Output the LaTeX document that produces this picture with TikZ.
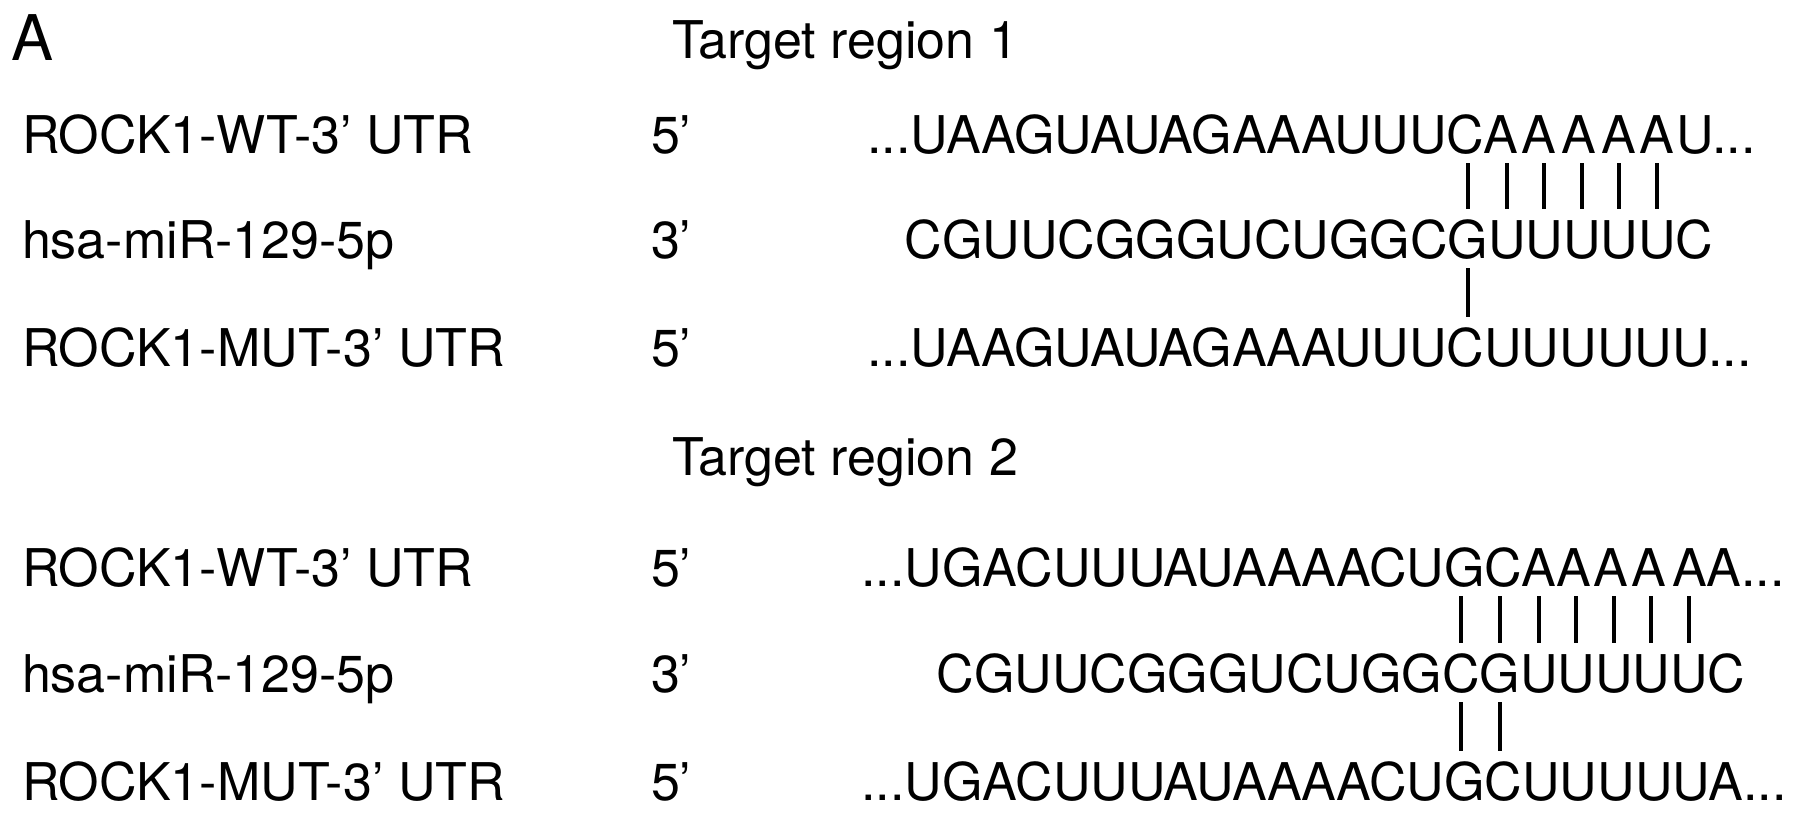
\documentclass[tikz,border=0pt]{standalone}
\usepackage{fontspec}
\setmainfont{TeX Gyre Heros}
\begin{document}
\begin{tikzpicture}[x=1pt,y=-1pt,
  every node/.style={inner sep=0pt, outer sep=0pt, font=\fontsize{52}{62}\selectfont,
                     text height=37.4pt, text depth=0pt},
  lbl/.style={anchor=base west},
  nt/.style={anchor=base},
  after/.style={anchor=base west, at=(#1.base east)},
  pairbar/.style={line width=4pt, shorten <=10pt, shorten >=12pt}
]
\useasboundingbox (0,0) rectangle (1795,814);

% panel letter and titles
\node[lbl, font=\fontsize{63}{72}\selectfont] (panel) at (12,60) {A};
\node[lbl] (title1) at (672,58) {Target region 1};
\node[lbl] (title2) at (672,475) {Target region 2};

% row labels
\node[lbl] (lab1) at (22,153) {ROCK1-WT-3’ UTR};
\node[lbl] (lab2) at (22,258) {hsa-miR-129-5p};
\node[lbl] (lab3) at (22,366) {ROCK1-MUT-3’ UTR};
\node[lbl] (lab4) at (22,586) {ROCK1-WT-3’ UTR};
\node[lbl] (lab5) at (22,692) {hsa-miR-129-5p};
\node[lbl] (lab6) at (22,800) {ROCK1-MUT-3’ UTR};
\node[lbl] (end1) at (651,153) {5’};
\node[lbl] (end2) at (651,258) {3’};
\node[lbl] (end3) at (651,366) {5’};
\node[lbl] (end4) at (651,586) {5’};
\node[lbl] (end5) at (651,692) {3’};
\node[lbl] (end6) at (651,800) {5’};

% ---------- target region 1 ----------
\node[lbl] (t1pre) at (867.5,153) {...UAAGUAUAGAAAUUU};
\node[nt] (t1c)  at (1465,153) {C};
\node[nt] (t1a1) at (1501,153) {A};
\node[nt] (t1a2) at (1539,153) {A};
\node[nt] (t1a3) at (1579,153) {A};
\node[nt] (t1a4) at (1619,153) {A};
\node[nt] (t1a5) at (1657,153) {A};
\node[lbl] (t1post) at (1676,153) {U...};

\node[lbl] (m1pre) at (904.5,258) {CGUUCGGGUCUGGC};
\node[after=m1pre] (m1g) {G};
\node[after=m1g]  (m1u1) {U};
\node[after=m1u1] (m1u2) {U};
\node[after=m1u2] (m1u3) {U};
\node[after=m1u3] (m1u4) {U};
\node[after=m1u4] (m1u5) {U};
\node[after=m1u5] (m1c)  {C};

\node[lbl] (b1pre) at (867.5,366) {...UAAGUAUAGAAAUUU};
\node[after=b1pre] (b1c) {C};
\node[after=b1c] (b1post) {UUUUUU...};

\foreach \t/\m in {t1c/m1g, t1a1/m1u1, t1a2/m1u2, t1a3/m1u3, t1a4/m1u4, t1a5/m1u5}
  \draw[pairbar] (\m.north |- \t.south) -- (\m.north);
\draw[pairbar] (m1g.south) -- (m1g.south |- b1c.north);

% ---------- target region 2 ----------
\node[lbl] (t2pre) at (861.5,586) {...UGACUUUAUAAAACU};
\node[after=t2pre] (t2g) {G};
\node[after=t2g] (t2c) {C};
\node[nt] (t2a1) at (1539,586) {A};
\node[nt] (t2a2) at (1574,586) {A};
\node[nt] (t2a3) at (1611,586) {A};
\node[nt] (t2a4) at (1649,586) {A};
\node[nt] (t2a5) at (1690,586) {A};
\node[nt] (t2a6) at (1724,586) {A};
\node[after=t2a6] (t2post) {...};

\node[lbl] (m2pre) at (936.5,692) {CGUUCGGGUCUGG};
\node[after=m2pre] (m2c) {C};
\node[after=m2c]  (m2g)  {G};
\node[after=m2g]  (m2u1) {U};
\node[after=m2u1] (m2u2) {U};
\node[after=m2u2] (m2u3) {U};
\node[after=m2u3] (m2u4) {U};
\node[after=m2u4] (m2u5) {U};
\node[after=m2u5] (m2end) {C};

\node[lbl] (b2pre) at (861.5,800) {...UGACUUUAUAAAACU};
\node[after=b2pre] (b2g) {G};
\node[after=b2g] (b2c) {C};
\node[after=b2c] (b2post) {UUUUUA...};

\foreach \t/\m in {t2g/m2c, t2c/m2g, t2a1/m2u1, t2a2/m2u2, t2a3/m2u3, t2a4/m2u4, t2a5/m2u5}
  \draw[pairbar] (\m.north |- \t.south) -- (\m.north);
\foreach \m/\b in {m2c/b2g, m2g/b2c}
  \draw[pairbar] (\m.south) -- (\m.south |- \b.north);
\end{tikzpicture}
\end{document}
